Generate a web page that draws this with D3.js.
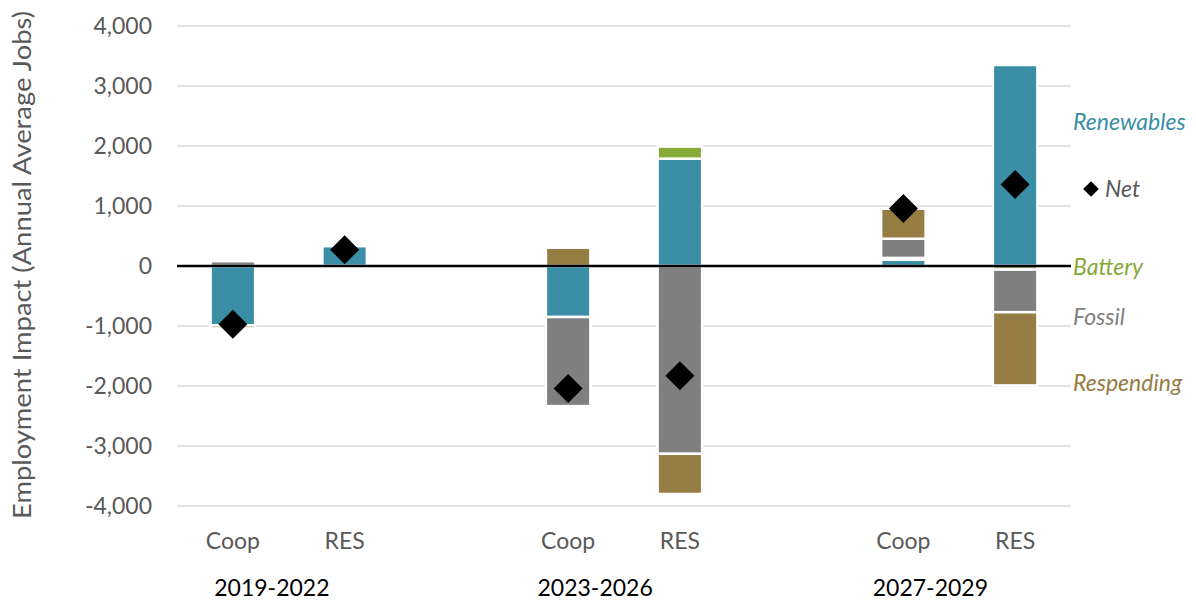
<!DOCTYPE html>
<html>
<head>
<meta charset="utf-8">
<script src="https://cdn.jsdelivr.net/npm/d3@7"></script>
<style>
  html, body { margin: 0; padding: 0; background: #ffffff; }
  svg { display: block; font-family: Lato, "Open Sans", sans-serif; }
</style>
</head>
<body>
<svg id="chart" width="1196" height="601"></svg>
<script>
// Scenario bars, two per period
const periods = ["2019-2022", "2023-2026", "2027-2029"];
const scenarios = ["Coop", "RES"];

// Annual average jobs by component, one entry per bar (period x scenario)
const renewables = [-990, 330, -850, 1790, 105, 3350];
const battery    = [0, 0, 0, 200, 30, -60];
const fossil     = [80, -30, -1485, -3130, 320, -710];
const respending = [-50, -30, 305, -670, 500, -1220];
const net        = [-970, 270, -2040, -1830, 960, 1360];

const yTicks = [-4000, -3000, -2000, -1000, 0, 1000, 2000, 3000, 4000];

const seriesKeys = ["Renewables", "Battery", "Fossil", "Respending"];
const seriesColors = {
  Renewables: "#3a8fa6",
  Battery: "#86aa38",
  Fossil: "#7f7f7f",
  Respending: "#967d43"
};

// Build rows for the stack
const rows = [];
periods.forEach((p, i) => {
  scenarios.forEach((s, j) => {
    const k = i * scenarios.length + j;
    rows.push({
      key: s + "|" + p, scenario: s, period: p,
      Renewables: renewables[k], Battery: battery[k],
      Fossil: fossil[k], Respending: respending[k], Net: net[k]
    });
  });
});

// Slots along the x axis: each period has its two bars plus an empty slot between periods
const slots = [];
periods.forEach((p, i) => {
  scenarios.forEach(s => slots.push(s + "|" + p));
  if (i < periods.length - 1) slots.push("gap" + i);
});

const svg = d3.select("#chart");
const plotLeft = 177, plotRight = 1071, plotTop = 26, plotBottom = 506;

const x = d3.scaleBand().domain(slots).range([plotLeft, plotRight]).padding(0);
const y = d3.scaleLinear().domain([-4000, 4000]).range([plotBottom, plotTop]);

const barW = 44.5;
const cx = key => x(key) + x.bandwidth() / 2;

// Gridlines
svg.append("g")
  .selectAll("line")
  .data(yTicks.filter(t => t !== 0))
  .join("line")
  .attr("x1", plotLeft).attr("x2", plotRight)
  .attr("y1", d => y(d)).attr("y2", d => y(d))
  .attr("stroke", "#d9d9d9").attr("stroke-width", 1.5);

// Y axis tick labels (plain hyphen for negatives)
const fmt = d3.format(",");
const yAxis = d3.axisLeft(y).tickValues(yTicks).tickSize(0).tickPadding(0)
  .tickFormat(d => fmt(d).replace("\u2212", "-"));
const yAxisG = svg.append("g").attr("transform", `translate(152,0)`).call(yAxis);
yAxisG.select(".domain").remove();
yAxisG.selectAll("text")
  .attr("fill", "#595959")
  .style("font-size", "23px")
  .style("font-family", "Lato, sans-serif");

// Y axis title
svg.append("text")
  .attr("transform", `translate(31,${y(0) - 1}) rotate(-90)`)
  .attr("text-anchor", "middle")
  .attr("fill", "#595959")
  .attr("textLength", 508)
  .attr("lengthAdjust", "spacingAndGlyphs")
  .style("font-size", "25px")
  .text("Employment Impact (Annual Average Jobs)");

// Stacked bars (diverging)
const stack = d3.stack().keys(seriesKeys).offset(d3.stackOffsetDiverging);
const stacked = stack(rows);

svg.append("g")
  .selectAll("g")
  .data(stacked)
  .join("g")
  .attr("fill", d => seriesColors[d.key])
  .selectAll("rect")
  .data(d => d.filter(s => s[1] - s[0] !== 0))
  .join("rect")
  .attr("x", d => cx(d.data.key) - barW / 2)
  .attr("width", barW)
  .attr("y", d => y(Math.max(d[0], d[1])))
  .attr("height", d => Math.abs(y(d[0]) - y(d[1])))
  .attr("stroke", "#ffffff")
  .attr("stroke-width", 2.5);

// Zero line
svg.append("line")
  .attr("x1", plotLeft).attr("x2", plotRight)
  .attr("y1", y(0)).attr("y2", y(0))
  .attr("stroke", "#000000").attr("stroke-width", 2.5);

// Net markers
const diamondSide = 20.5;
svg.append("g")
  .selectAll("path")
  .data(rows)
  .join("path")
  .attr("d", d3.symbol(d3.symbolSquare, diamondSide * diamondSide))
  .attr("transform", d => `translate(${cx(d.key)},${y(d.Net)}) rotate(45)`)
  .attr("fill", "#000000");

// Scenario labels
svg.append("g")
  .selectAll("text")
  .data(rows)
  .join("text")
  .attr("x", d => cx(d.key))
  .attr("y", 549)
  .attr("text-anchor", "middle")
  .attr("fill", "#595959")
  .style("font-size", "23px")
  .text(d => d.scenario);

// Period labels
const periodShift = [39, 27, 27];
svg.append("g")
  .selectAll("text")
  .data(periods)
  .join("text")
  .attr("x", (p, i) => cx("Coop|" + p) + periodShift[i])
  .attr("y", 596)
  .attr("text-anchor", "middle")
  .attr("fill", "#000000")
  .style("font-size", "23px")
  .text(d => d);

// Series labels on the right
const legend = svg.append("g").style("font-style", "italic").style("font-size", "23px");
const legendItems = [
  { name: "Renewables", color: "#3a8fa6", cy: 122 },
  { name: "Battery", color: "#86aa38", cy: 267 },
  { name: "Fossil", color: "#7f7f7f", cy: 317 },
  { name: "Respending", color: "#967d43", cy: 383 }
];
legend.selectAll("text.series")
  .data(legendItems)
  .join("text")
  .attr("class", "series")
  .attr("x", 1073)
  .attr("y", d => d.cy)
  .attr("dy", "0.35em")
  .attr("fill", d => d.color)
  .text(d => d.name);

const legendSide = 11.1;
legend.append("path")
  .attr("d", d3.symbol(d3.symbolSquare, legendSide * legendSide))
  .attr("transform", `translate(1091,189) rotate(45)`)
  .attr("fill", "#000000");
legend.append("text")
  .attr("x", 1105)
  .attr("y", 189)
  .attr("dy", "0.35em")
  .attr("fill", "#595959")
  .text("Net");
</script>
</body>
</html>
